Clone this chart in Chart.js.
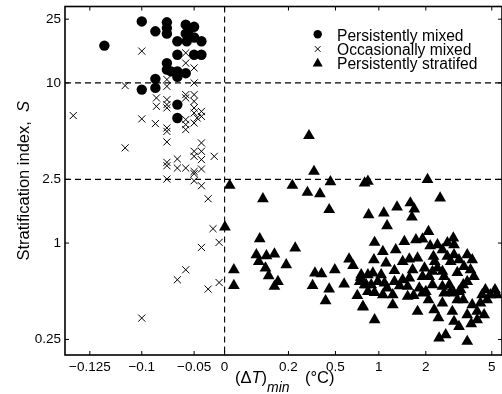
<!DOCTYPE html>
<html><head><meta charset="utf-8">
<script src="https://cdn.jsdelivr.net/npm/chart.js@4.4.1/dist/chart.umd.min.js"></script>
<style>html,body{margin:0;padding:0;background:#fff;}#wrap{width:502px;height:394px;}</style>
</head><body><div id="wrap"><canvas id="c" width="502" height="394"></canvas></div>
<script>
// ---- data (x = (ΔT)min in °C, y = stratification index S) ----
const seriesNames = ['Persistently mixed', 'Occasionally mixed', 'Persistently stratifed'];

const persistentlyMixed = [
  [-0.118,17.1],[-0.100,24.2],[-0.087,21.0],[-0.076,23.9],[-0.076,22.0],[-0.076,20.3],
  [-0.066,18.2],[-0.058,23.1],[-0.050,22.4],[-0.058,20.3],[-0.057,18.2],[-0.050,19.2],
  [-0.038,18.2],[-0.066,15.0],[-0.050,15.0],[-0.038,15.0],[-0.076,13.3],[-0.076,12.1],
  [-0.066,11.8],[-0.066,10.9],[-0.058,11.5],[-0.087,10.6],[-0.087,9.31],[-0.100,9.08],
  [-0.066,7.32],[-0.066,6.04],[-0.055,21.5],[-0.072,11.8]
];

const occasionallyMixed = [
  [-0.133,6.25],[-0.108,9.62],[-0.108,3.93],[-0.100,15.8],[-0.100,5.96],[-0.087,5.57],
  [-0.086,8.06],[-0.086,7.14],[-0.076,10.5],[-0.076,9.52],[-0.076,7.86],[-0.076,7.32],
  [-0.076,6.98],[-0.076,5.23],[-0.076,4.98],[-0.076,4.28],[-0.076,3.19],[-0.076,3.04],
  [-0.076,2.51],[-0.066,3.35],[-0.066,2.94],[-0.058,15.4],[-0.058,13.3],[-0.050,12.4],
  [-0.050,10.0],[-0.058,8.45],[-0.050,8.45],[-0.058,8.06],[-0.050,7.67],[-0.050,6.98],
  [-0.050,6.49],[-0.038,6.64],[-0.038,6.18],[-0.045,6.04],[-0.050,5.62],[-0.058,5.49],
  [-0.058,5.11],[-0.038,4.22],[-0.050,3.74],[-0.038,3.74],[-0.050,3.48],[-0.038,3.32],
  [-0.017,3.48],[-0.058,2.94],[-0.050,2.80],[-0.050,2.71],[-0.038,2.90],[-0.050,2.45],
  [-0.038,2.28],[-0.027,1.89],[-0.019,1.23],[-0.009,1.01],[-0.038,0.939],[-0.058,0.681],
  [-0.066,0.590],[-0.009,0.567],[-0.027,0.516],[-0.100,0.340],[-0.058,5.90]
];

const persistentlyStratified = [
  [0.331,4.68],[0.363,2.80],[0.016,2.29],[0.225,2.29],[0.468,2.41],[0.321,2.07],
  [0.401,2.03],[0.120,1.89],[0.460,1.615],[0.001,1.26],[0.110,1.064],[0.243,0.931],
  [0.0995,0.845],[0.131,0.833],[0.156,0.854],[0.107,0.767],[0.193,0.732],[0.128,0.698],
  [0.029,0.681],[0.138,0.625],[0.167,0.575],[0.156,0.536],[0.029,0.543],[0.369,0.649],
  [0.411,0.643],[0.496,0.681],[0.657,0.794],[0.703,0.724],[0.354,0.543],[0.460,0.516],
  [0.600,0.554],[0.791,0.610],[0.836,0.549],[0.752,0.470],[0.437,0.436],[0.817,0.398],
  [0.836,2.37],[0.874,2.43],[2.077,2.49],[2.651,1.91],[0.882,1.50],[1.106,1.54],
  [1.387,1.68],[1.670,1.78],[1.755,1.63],[1.704,1.45],[1.175,1.28],[2.122,1.18],
  [0.951,1.009],[1.543,1.023],[1.789,1.049],[1.930,1.059],[2.199,0.962],[3.251,1.075],
  [3.283,0.976],[1.085,0.886],[0.943,0.786],[1.154,0.750],[1.507,0.767],[1.649,0.794],
  [1.824,0.806],[1.332,0.674],[2.348,0.825],[2.407,0.767],[2.980,0.825],[3.283,0.845],
  [3.130,0.767],[3.884,0.845],[4.110,0.786],[3.509,0.786],[3.735,0.714],[0.797,0.634],
  [0.874,0.634],[0.931,0.649],[1.049,0.634],[0.779,0.575],[0.855,0.549],[0.912,0.549],
  [0.988,0.575],[1.120,0.562],[1.332,0.575],[1.507,0.590],[1.649,0.604],[1.930,0.618],
  [2.154,0.618],[2.303,0.665],[2.529,0.698],[2.755,0.665],[2.831,0.618],[3.432,0.655],
  [4.033,0.681],[4.187,0.618],[3.884,0.575],[0.874,0.498],[0.951,0.491],[1.085,0.475],
  [1.296,0.475],[1.613,0.536],[1.613,0.464],[1.860,0.523],[1.930,0.487],[2.000,0.498],
  [2.303,0.549],[2.755,0.536],[2.831,0.487],[3.130,0.498],[3.283,0.487],[3.509,0.498],
  [3.581,0.511],[3.432,0.442],[4.711,0.511],[4.937,0.475],[4.788,0.442],[4.485,0.422],
  [4.110,0.411],[3.884,0.356],[4.336,0.374],[0.817,0.402],[1.296,0.411],[1.824,0.374],
  [2.380,0.383],[3.206,0.374],[4.336,0.332],[0.951,0.332],[3.283,0.324],[3.509,0.301],
  [2.605,0.255],[2.904,0.267],[3.884,0.243],[1.359,0.908],[2.755,0.908],[2.980,1.004],
  [2.529,0.976],[1.972,0.698],[1.719,0.681],[1.444,0.541],[1.175,0.523],[1.740,0.470],
  [2.122,0.442],[2.755,0.422],[3.071,0.549],[3.703,0.549],[5.147,0.511],[5.236,0.475],
  [4.562,0.475],[3.703,0.442],[2.574,0.341],[4.065,0.313],[4.652,0.356]
];

const xTickValues = [-0.125, -0.1, -0.05, 0, 0.2, 0.5, 1, 2, 5];
const xTickLabels = ['\u22120.125', '\u22120.1', '\u22120.05', '0', '0.2', '0.5', '1', '2', '5'];
const yTickValues = [0.25, 1, 2.5, 10, 25];
const yTickLabels = ['0.25', '1', '2.5', '10', '25'];
const dashedX = [0];
const dashedY = [2.5, 10];

// ---- custom piecewise x scale (axis breaks as in the original figure) ----
const X_KNOT_VALUES = [-0.137, -0.125, -0.1, -0.05, 0, 0.2, 0.5, 1, 2, 5, 5.465];
const X_KNOT_FRACS  = [0, 0.05682, 0.17568, 0.29545, 0.36523, 0.51136, 0.61886, 0.71818, 0.82568, 0.97659, 1];
function interp(v, from, to) {
  let i = 0;
  while (i < from.length - 2 && v > from[i + 1]) i++;
  const t = (v - from[i]) / (from[i + 1] - from[i]);
  return to[i] + t * (to[i + 1] - to[i]);
}
class PiecewiseScale extends Chart.LinearScale {
  buildTicks() { return xTickValues.map(v => ({ value: v })); }
  getPixelForValue(value) { return this.getPixelForDecimal(interp(value, X_KNOT_VALUES, X_KNOT_FRACS)); }
  getValueForPixel(pixel) { return interp(this.getDecimalForPixel(pixel), X_KNOT_FRACS, X_KNOT_VALUES); }
}
PiecewiseScale.id = 'piecewise';
PiecewiseScale.defaults = {};
Chart.register(PiecewiseScale);

const FONT = '"Liberation Sans", Arial, Helvetica, sans-serif';

const decorPlugin = {
  id: 'decor',
  beforeDatasetsDraw(chart) {
    const { ctx, chartArea: a, scales: { x, y } } = chart;
    ctx.save();
    ctx.strokeStyle = '#000';
    ctx.lineWidth = 1.1;
    ctx.setLineDash([6, 4]);
    dashedY.forEach(v => {
      const py = y.getPixelForValue(v);
      ctx.beginPath(); ctx.moveTo(a.left, py); ctx.lineTo(a.right, py); ctx.stroke();
    });
    dashedX.forEach(v => {
      const px = x.getPixelForValue(v);
      ctx.beginPath(); ctx.moveTo(px, a.top); ctx.lineTo(px, a.bottom); ctx.stroke();
    });
    ctx.restore();
  },
  afterDraw(chart) {
    const { ctx, chartArea: a, scales: { x, y } } = chart;
    ctx.save();
    ctx.strokeStyle = '#000';
    ctx.lineWidth = 1.6;
    ctx.strokeRect(a.left, a.top, a.right - a.left, a.bottom - a.top);
    ctx.lineWidth = 1;
    const tl = 4;
    xTickValues.forEach(v => {
      const px = x.getPixelForValue(v);
      ctx.beginPath();
      ctx.moveTo(px, a.bottom); ctx.lineTo(px, a.bottom - tl);
      ctx.moveTo(px, a.top); ctx.lineTo(px, a.top + tl);
      ctx.stroke();
    });
    yTickValues.forEach(v => {
      const py = y.getPixelForValue(v);
      ctx.beginPath();
      ctx.moveTo(a.left, py); ctx.lineTo(a.left + tl, py);
      ctx.moveTo(a.right, py); ctx.lineTo(a.right - tl, py);
      ctx.stroke();
    });

    // legend
    const lx = 317.7, tx = 337;
    const rows = [
      { y: 34.3, base: 41.0, opt: { pointStyle: 'circle', radius: 4.2, rotation: 0, borderWidth: 0 } },
      { y: 49.0, base: 55.0, opt: { pointStyle: 'crossRot', radius: 4, rotation: 0, borderWidth: 1 } },
      { y: 63.6, base: 68.6, opt: { pointStyle: 'triangle', radius: 5.8, rotation: 0, borderWidth: 0 } }
    ];
    ctx.fillStyle = '#000'; ctx.strokeStyle = '#000';
    rows.forEach((r, i) => {
      Chart.helpers.drawPoint(ctx, r.opt, lx, r.y);
      ctx.font = '15.6px ' + FONT;
      ctx.textAlign = 'left'; ctx.textBaseline = 'alphabetic';
      ctx.fillText(seriesNames[i], tx, r.base);
    });

    // x title: (ΔT)_min (°C)
    ctx.textBaseline = 'alphabetic';
    let cx = 235;
    const base = 383.3;
    const seg = (t, font, dy) => { ctx.font = font; ctx.fillText(t, cx, base + (dy || 0)); cx += ctx.measureText(t).width; };
    seg('(\u0394', '16.5px ' + FONT);
    seg('T', 'italic 16.5px ' + FONT);
    seg(')', '16.5px ' + FONT);
    seg('min', 'italic 14px ' + FONT, 8.5);
    cx = 305;
    seg('(\u00B0C)', '16.5px ' + FONT);

    // y title: Stratification index, S
    ctx.translate(24, (a.top + a.bottom) / 2);
    ctx.rotate(-Math.PI / 2);
    const f1 = '16.5px ' + FONT, f2 = 'italic 16.5px ' + FONT;
    const t1 = 'Stratification index,  ', t2 = 'S';
    ctx.font = f1; const w1 = ctx.measureText(t1).width;
    ctx.font = f2; const w2 = ctx.measureText(t2).width;
    ctx.textBaseline = 'middle';
    const sx = -(w1 + w2) / 2;
    ctx.font = f1; ctx.fillText(t1, sx, 0);
    ctx.font = f2; ctx.fillText(t2, sx + w1, 0);
    ctx.restore();
  }
};

const toPts = arr => arr.map(p => ({ x: p[0], y: p[1] }));

new Chart(document.getElementById('c'), {
  type: 'scatter',
  data: {
    datasets: [
      { label: seriesNames[0], data: toPts(persistentlyMixed), pointStyle: 'circle', pointRadius: 5.2,
        backgroundColor: '#000', borderColor: '#000', borderWidth: 0, order: 1 },
      { label: seriesNames[1], data: toPts(occasionallyMixed), pointStyle: 'crossRot', pointRadius: 5,
        backgroundColor: '#000', borderColor: '#000', borderWidth: 1, order: 0 },
      { label: seriesNames[2], data: toPts(persistentlyStratified), pointStyle: 'triangle', pointRadius: 6.8,
        backgroundColor: '#000', borderColor: '#000', borderWidth: 0, order: 2 }
    ]
  },
  options: {
    responsive: false,
    animation: false,
    devicePixelRatio: 1,
    layout: { autoPadding: false, padding: { left: 0, top: 6.5, right: -3, bottom: 0 } },
    plugins: { legend: { display: false }, tooltip: { enabled: false } },
    scales: {
      x: {
        type: 'piecewise', position: 'bottom', min: -0.137, max: 5.465,
        grid: { display: false, drawTicks: false }, border: { display: false },
        ticks: { autoSkip: false, maxRotation: 0, padding: 4, color: '#000',
          font: { family: FONT, size: 13.5 },
          callback: v => xTickLabels[xTickValues.indexOf(v)] },
        afterFit: s => { s.height = 39; s.paddingLeft = 0; s.paddingRight = 0; }
      },
      y: {
        type: 'logarithmic', position: 'left', min: 0.2, max: 30,
        afterBuildTicks: s => { s.ticks = yTickValues.map(v => ({ value: v })); },
        grid: { display: false, drawTicks: false }, border: { display: false },
        ticks: { autoSkip: false, padding: 4, color: '#000',
          font: { family: FONT, size: 13.5 },
          callback: v => yTickLabels[yTickValues.indexOf(v)] },
        afterFit: s => { s.width = 65; s.paddingTop = 0; s.paddingBottom = 0; }
      }
    }
  },
  plugins: [decorPlugin]
});
</script>
</body></html>
